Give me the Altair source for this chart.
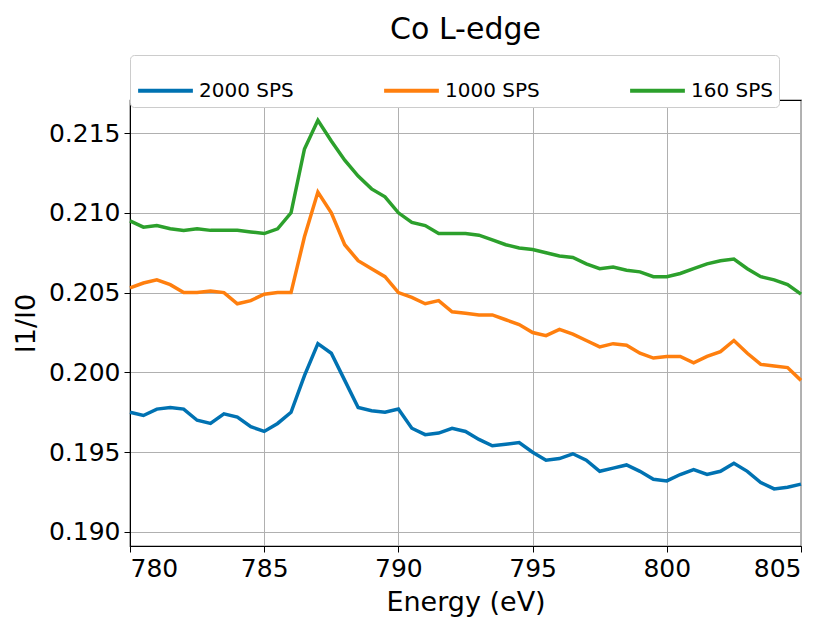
import numpy as np
import pandas as pd
import altair as alt

energy = list(np.arange(780, 805.01, 0.5))

sps_2000 = [0.1975, 0.1973, 0.1977, 0.1978, 0.1977, 0.1970, 0.1968, 0.1974, 0.1972, 0.1966,
            0.1963, 0.1968, 0.1975, 0.1998, 0.2018, 0.2012, 0.1995, 0.1978, 0.1976, 0.1975,
            0.1977, 0.1965, 0.1961, 0.1962, 0.1965, 0.1963, 0.1958, 0.1954, 0.1955, 0.1956,
            0.1950, 0.1945, 0.1946, 0.1949, 0.1945, 0.1938, 0.1940, 0.1942, 0.1938, 0.1933,
            0.1932, 0.1936, 0.1939, 0.1936, 0.1938, 0.1943, 0.1938, 0.1931, 0.1927, 0.1928, 0.1930]
sps_1000 = [0.2053, 0.2056, 0.2058, 0.2055, 0.2050, 0.2050, 0.2051, 0.2050, 0.2043, 0.2045,
            0.2049, 0.2050, 0.2050, 0.2085, 0.2113, 0.2100, 0.2080, 0.2070, 0.2065, 0.2060,
            0.2050, 0.2047, 0.2043, 0.2045, 0.2038, 0.2037, 0.2036, 0.2036, 0.2033, 0.2030,
            0.2025, 0.2023, 0.2027, 0.2024, 0.2020, 0.2016, 0.2018, 0.2017, 0.2012, 0.2009,
            0.2010, 0.2010, 0.2006, 0.2010, 0.2013, 0.2020, 0.2012, 0.2005, 0.2004, 0.2003, 0.1995]
sps_160 = [0.2095, 0.2091, 0.2092, 0.2090, 0.2089, 0.2090, 0.2089, 0.2089, 0.2089, 0.2088,
           0.2087, 0.2090, 0.2100, 0.2140, 0.2158, 0.2145, 0.2133, 0.2123, 0.2115, 0.2110,
           0.2100, 0.2094, 0.2092, 0.2087, 0.2087, 0.2087, 0.2086, 0.2083, 0.2080, 0.2078,
           0.2077, 0.2075, 0.2073, 0.2072, 0.2068, 0.2065, 0.2066, 0.2064, 0.2063, 0.2060,
           0.2060, 0.2062, 0.2065, 0.2068, 0.2070, 0.2071, 0.2065, 0.2060, 0.2058, 0.2055, 0.2049]

series = ["2000 SPS", "1000 SPS", "160 SPS"]
colors = ["#0072b2", "#ff7f0e", "#2ca02c"]

frames = []
for name, vals in zip(series, [sps_2000, sps_1000, sps_160]):
    frames.append(pd.DataFrame({"energy": energy, "ratio": vals, "series": name}))
df = pd.concat(frames)

font = "DejaVu Sans"
chart = (
    alt.Chart(df, title=alt.Title("Co L-edge", fontSize=30, font=font, fontWeight="normal", offset=10))
    .mark_line(strokeWidth=3.5)
    .encode(
        x=alt.X("energy:Q", title="Energy (eV)", scale=alt.Scale(domain=[780, 805], nice=False),
                axis=alt.Axis(values=[780, 785, 790, 795, 800, 805])),
        y=alt.Y("ratio:Q", title="I1/I0", scale=alt.Scale(domain=[0.18912, 0.21707], nice=False, zero=False),
                axis=alt.Axis(values=[0.190, 0.195, 0.200, 0.205, 0.210, 0.215], format=".3f")),
        color=alt.Color("series:N", sort=series, scale=alt.Scale(domain=series, range=colors),
                        legend=alt.Legend(title=None, orient="none", legendX=0, legendY=-45,
                                          direction="horizontal", columns=3, columnPadding=82,
                                          symbolType="stroke", symbolSize=3000, symbolStrokeWidth=4,
                                          labelFontSize=20, labelFont=font, strokeColor="#cccccc",
                                          cornerRadius=4, padding=6, fillColor="white")),
        detail="series:N",
    )
    .properties(width=671, height=446, autosize=alt.AutoSizeParams(type="none"),
                padding={"left": 122, "top": 92, "right": 27, "bottom": 75})
    .configure_view(stroke="black", strokeWidth=1.2)
    .configure_axis(labelFontSize=25, titleFontSize=27, labelFont=font, titleFont=font,
                    labelColor="black", titleColor="black", titleFontWeight="normal",
                    gridColor="#b0b0b0", domainColor="black", tickColor="black", tickSize=6,
                    labelPadding=4, titlePadding=8)
)

chart.save("out.html", embed_options={"renderer": "svg", "actions": False})
